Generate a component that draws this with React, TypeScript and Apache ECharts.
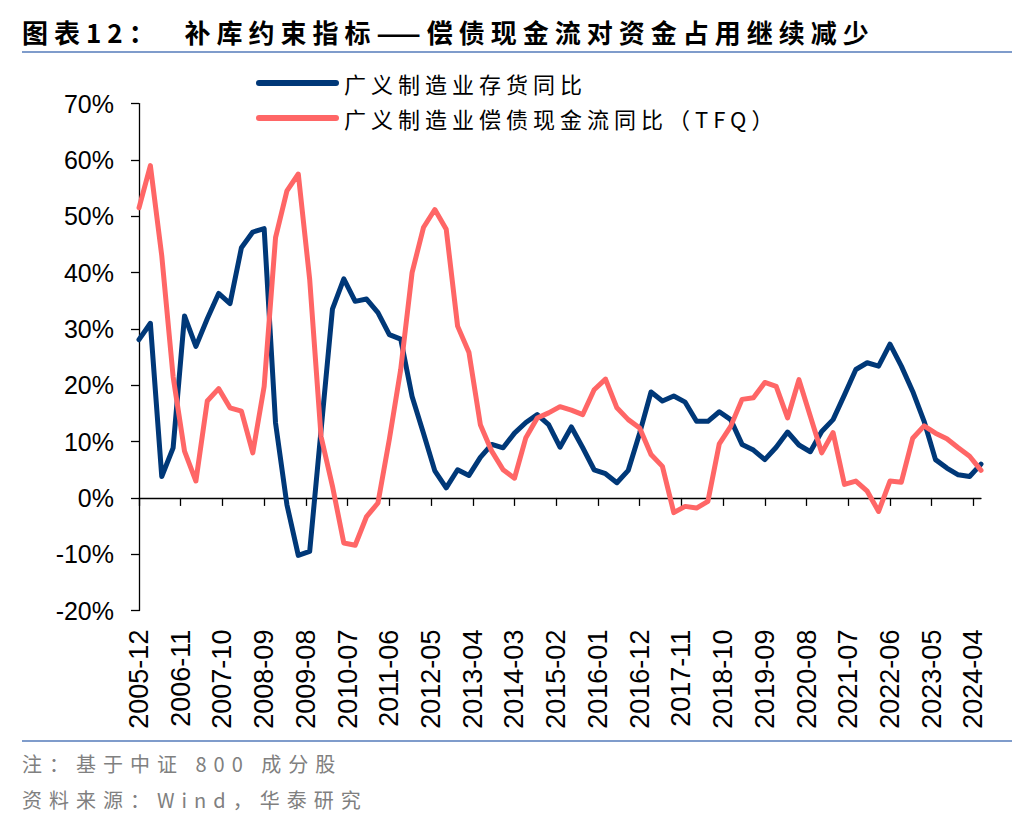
import React, { useEffect, useRef } from "react";
import * as echarts from "echarts";

// ---- Data ----
const START = { year: 2005, month: 12 };
const END = { year: 2024, month: 6 };

// 广义制造业存货同比 (quarterly, %, from 2005-12)
const inventoryYoY = [
  28.1, 31.0, 3.8, 8.9, 32.3, 26.9, 31.8, 36.3, 34.5, 44.4,
  47.2, 47.8, 13.3, -1.2, -10.2, -9.5, 12.0, 33.5, 38.9, 34.9,
  35.3, 32.9, 29.0, 28.2, 18.0, 11.5, 4.8, 1.8, 5.0, 4.0,
  7.2, 9.5, 8.9, 11.5, 13.4, 14.8, 13.0, 9.0, 12.6, 8.9,
  5.0, 4.3, 2.7, 4.9, 11.5, 18.8, 17.2, 18.1, 17.0, 13.6,
  13.6, 15.3, 13.9, 9.5, 8.5, 6.8, 9.0, 11.7, 9.4, 8.2,
  11.8, 13.9, 18.3, 22.8, 24.0, 23.4, 27.3, 23.4, 18.9, 13.6,
  6.8, 5.3, 4.1, 3.8, 6.0,
];

// 广义制造业偿债现金流同比（TFQ） (quarterly, %, from 2005-12)
const tfqYoY = [
  51.5, 59.0, 43.0, 21.5, 8.3, 3.0, 17.2, 19.4, 16.0, 15.4,
  8.0, 19.8, 46.2, 54.5, 57.5, 38.8, 10.9, 2.1, -8.0, -8.4,
  -3.3, -0.9, 10.4, 22.8, 40.0, 48.0, 51.2, 47.7, 30.5, 25.8,
  13.0, 8.3, 5.0, 3.5, 10.7, 14.2, 15.1, 16.2, 15.6, 14.8,
  19.2, 21.1, 16.0, 13.9, 12.4, 7.7, 5.6, -2.6, -1.5, -1.8,
  -0.6, 9.6, 12.7, 17.5, 17.8, 20.5, 19.8, 14.2, 21.0, 14.5,
  8.0, 11.6, 2.4, 3.0, 1.2, -2.4, 3.0, 2.8, 10.6, 12.8,
  11.5, 10.5, 8.9, 7.4, 4.9,
];

const seriesNames = ["广义制造业存货同比", "广义制造业偿债现金流同比（TFQ）"];
const yRange = { min: -20, max: 70, interval: 10 };
const labelEvery = 11; // months between x labels

const TITLE = "图表12：  补库约束指标——偿债现金流对资金占用继续减少";
const NOTE = "注：基于中证 800 成分股";
const SOURCE = "资料来源：Wind，华泰研究";

// monthly categories of the date axis
const months: string[] = [];
{
  let y = START.year;
  let m = START.month;
  while (y < END.year || (y === END.year && m <= END.month)) {
    months.push(`${y}-${String(m).padStart(2, "0")}`);
    m += 1;
    if (m > 12) {
      m = 1;
      y += 1;
    }
  }
}
const quarterDates = months.filter((_, i) => i % 3 === 0);

const BLUE = "#003878";
const RED = "#FF6666";
const LATIN = "'Liberation Sans', Arial, 'Noto Sans CJK SC', sans-serif";
const CJK = "'Noto Sans CJK SC', 'Liberation Sans', sans-serif";

export default function App() {
  const ref = useRef<HTMLDivElement>(null);

  useEffect(() => {
    if (!ref.current) return;
    const chart = echarts.init(ref.current, undefined, { renderer: "svg" });
    const legendIcon = "path://M3,0 H80 A3,3 0 0 1 80,6 H3 A3,3 0 0 1 3,0 Z";

    chart.setOption({
      animation: false,
      backgroundColor: "#ffffff",
      grid: { left: 139, right: 55, top: 103.6, bottom: 221.4, containLabel: false },
      legend: {
        orient: "vertical",
        left: 251,
        top: 66,
        itemWidth: 83,
        itemHeight: 6,
        itemGap: 11,
        icon: legendIcon,
        data: seriesNames,
        textStyle: { fontSize: 22, lineHeight: 24, color: "#000", fontFamily: CJK },
      },
      xAxis: [
        {
          type: "category",
          data: months,
          boundaryGap: false,
          axisLine: { onZero: true, lineStyle: { color: "#000", width: 1.3 } },
          axisTick: { show: true, interval: labelEvery - 1, length: 8, lineStyle: { color: "#000", width: 1.3 } },
          axisLabel: { show: false },
          splitLine: { show: false },
        },
        {
          type: "category",
          data: months,
          position: "bottom",
          boundaryGap: false,
          axisLine: { show: false, onZero: false },
          axisTick: { show: false },
          axisLabel: {
            show: true,
            interval: labelEvery - 1,
            rotate: 90,
            margin: 19,
            fontSize: 27,
            color: "#000",
            fontFamily: LATIN,
          },
          splitLine: { show: false },
        },
      ],
      yAxis: {
        type: "value",
        min: yRange.min,
        max: yRange.max,
        interval: yRange.interval,
        axisLine: { show: true, lineStyle: { color: "#000", width: 1.3 } },
        axisTick: { show: true, length: 8, lineStyle: { color: "#000", width: 1.3 } },
        axisLabel: {
          formatter: "{value}%",
          fontSize: 25,
          margin: 25,
          color: "#000",
          fontFamily: LATIN,
        },
        splitLine: { show: false },
      },
      series: [
        {
          name: seriesNames[0],
          type: "line",
          xAxisIndex: 0,
          data: quarterDates.map((d, i) => [d, inventoryYoY[i]]),
          symbol: "none",
          color: BLUE,
          lineStyle: { color: BLUE, width: 5, cap: "round", join: "round" },
        },
        {
          name: seriesNames[1],
          type: "line",
          xAxisIndex: 0,
          data: quarterDates.map((d, i) => [d, tfqYoY[i]]),
          symbol: "none",
          color: RED,
          lineStyle: { color: RED, width: 5, cap: "round", join: "round" },
        },
      ],
      graphic: [
        {
          type: "text",
          left: 22,
          top: 18,
          style: { text: TITLE, fill: "#000", fontSize: 26, fontWeight: "bold", fontFamily: CJK },
        },
        {
          type: "line",
          shape: { x1: 22, y1: 52, x2: 1012, y2: 52 },
          style: { stroke: "#7F9CCB", lineWidth: 2 },
        },
        {
          type: "line",
          shape: { x1: 22, y1: 741, x2: 1012, y2: 741 },
          style: { stroke: "#7F9CCB", lineWidth: 2 },
        },
        {
          type: "text",
          left: 22,
          top: 753,
          style: { text: NOTE, fill: "#808080", fontSize: 20, fontFamily: CJK },
        },
        {
          type: "text",
          left: 22,
          top: 789,
          style: { text: SOURCE, fill: "#808080", fontSize: 20, fontFamily: CJK },
        },
      ],
    });

    // widen CJK texts to the reference's loose letter pitch
    const texts = ref.current.querySelectorAll("text");
    texts.forEach((t) => {
      const s = t.textContent || "";
      if (s === TITLE) t.setAttribute("letter-spacing", "6");
      else if (seriesNames.includes(s)) t.setAttribute("letter-spacing", "5");
      else if (s === NOTE || s === SOURCE) t.setAttribute("letter-spacing", "7");
    });

    return () => chart.dispose();
  }, []);

  return (
    <div
      ref={ref}
      style={{ position: "fixed", left: 0, top: 0, width: 1036, height: 832, background: "#fff" }}
    />
  );
}
